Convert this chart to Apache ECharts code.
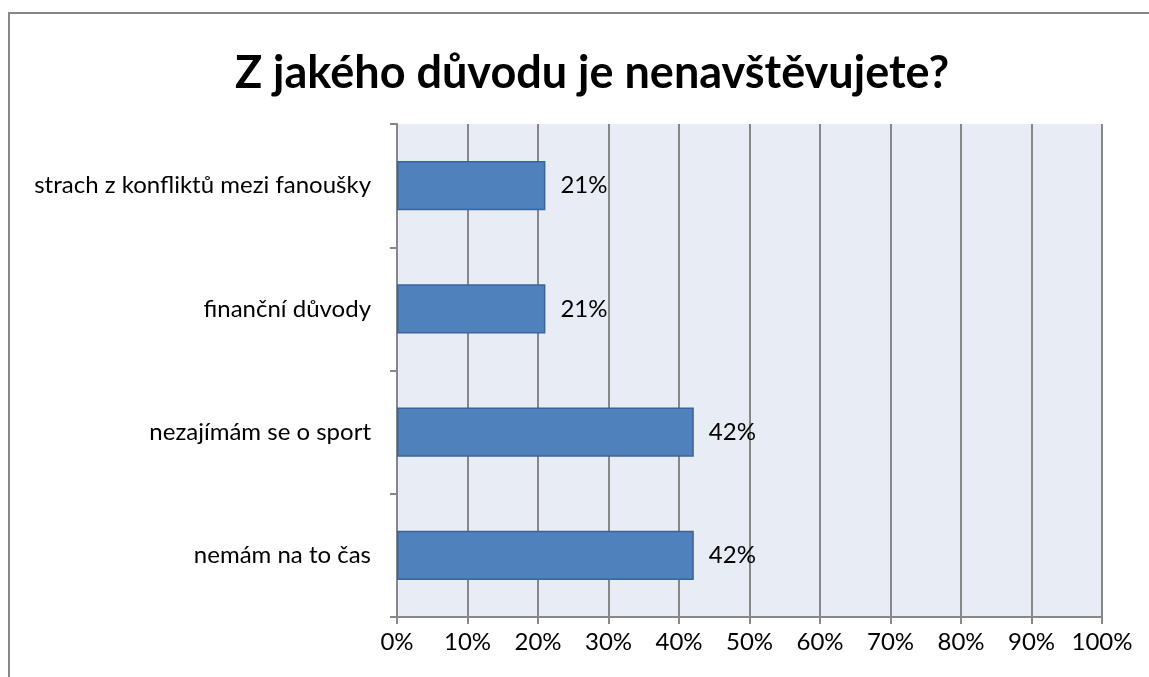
<!DOCTYPE html>
<html>
<head>
<meta charset="utf-8">
<script src="https://cdn.jsdelivr.net/npm/echarts@6/dist/echarts.min.js"></script>
<style>
  html, body { margin: 0; padding: 0; background: #fff; }
  #frame { position: absolute; left: 8px; top: 12px; width: 1160px; height: 700px; border: 2px solid #878787; box-sizing: border-box; }
  #main { position: absolute; left: 0; top: 0; width: 1149px; height: 677px; }
</style>
</head>
<body>
<div id="frame"></div>
<div id="main"></div>
<script>
    var myChart = echarts.init(document.getElementById('main'));

    // kategorie (odspodu nahoru)
    var reasons = ['nemám na to čas', 'nezajímám se o sport', 'finanční důvody', 'strach z konfliktů mezi fanoušky'];
    // podíl odpovědí v %
    var shares = [42.1, 42.1, 21.05, 21.05];
    var xTicks = [0, 10, 20, 30, 40, 50, 60, 70, 80, 90, 100];

    var font = 'Lato, "Open Sans", sans-serif';

    option = {
        title: {
            text: 'Z jakého důvodu je nenavštěvujete?',
            left: 587,
            textAlign: 'center',
            top: 46,
            textStyle: { fontFamily: font, fontSize: 45, fontWeight: 'bold', color: '#000' }
        },
        grid: {
            left: 397,
            right: 47,
            top: 124,
            bottom: 60,
            show: true,
            backgroundColor: '#e8ecf5',
            borderWidth: 0
        },
        xAxis: {
            type: 'value',
            min: xTicks[0],
            max: xTicks[xTicks.length - 1],
            interval: 10,
            axisLine: { show: true, lineStyle: { color: '#878787', width: 2 } },
            axisTick: { show: true, length: 7, lineStyle: { color: '#878787', width: 2 } },
            splitLine: { show: true, lineStyle: { color: '#878787', width: 2 } },
            axisLabel: {
                margin: 13,
                fontFamily: font, fontSize: 24, color: '#000',
                formatter: '{value}%'
            }
        },
        yAxis: {
            type: 'category',
            data: reasons,
            axisLine: { show: true, lineStyle: { color: '#878787', width: 2 } },
            axisTick: { show: true, length: 7, inside: false, lineStyle: { color: '#878787', width: 2 } },
            axisLabel: { margin: 26, fontFamily: font, fontSize: 24, color: '#000' }
        },
        series: [{
            type: 'bar',
            data: shares,
            barCategoryGap: '60%',
            itemStyle: { color: '#4f81bd', borderColor: '#3b659a', borderWidth: 1.5 },
            label: {
                show: true,
                position: 'right',
                distance: 15,
                fontFamily: font, fontSize: 24, color: '#000',
                formatter: function (p) { return Math.round(p.value) + '%'; }
            },
            animation: false
        }]
    };
    myChart.setOption(option);
</script>
</body>
</html>
